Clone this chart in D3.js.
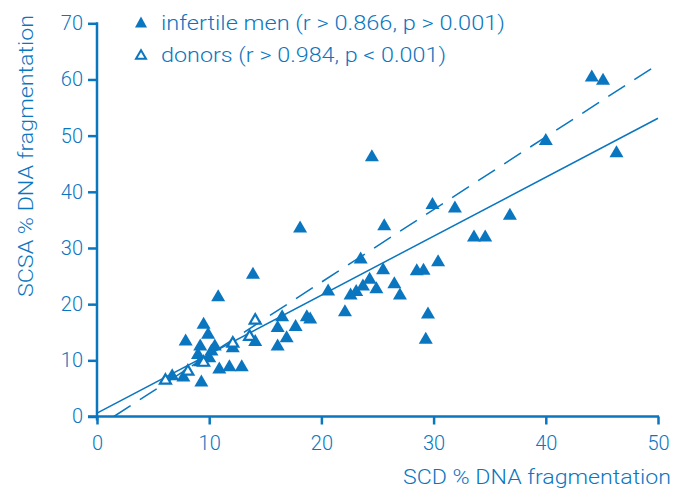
<!DOCTYPE html>
<html><head><meta charset="utf-8">
<script src="https://cdn.jsdelivr.net/npm/d3@7"></script>
<style>
html,body{margin:0;padding:0;background:#fff;}
svg{display:block;font-family:"Roboto","Liberation Sans",Arial,sans-serif;font-weight:300;}
</style></head>
<body>
<svg id="chart" width="687" height="489"></svg>
<script>
// ---- data ----
const infertileMen = [
 [6.7,7.4],[7.7,7.2],[7.9,13.6],[9.0,11.2],[9.2,12.7],[9.2,9.9],[9.3,6.3],[9.5,16.6],[9.9,14.8],
 [10.0,10.6],[10.2,11.8],[10.5,12.7],[10.8,21.5],[10.9,8.6],[11.8,9.0],[12.1,12.4],[12.9,9.0],
 [13.9,25.5],[14.1,13.5],[16.1,16.0],[16.1,12.7],[16.5,17.9],[16.9,14.2],[17.7,16.2],[18.1,33.7],
 [18.7,17.9],[19.0,17.5],[20.6,22.5],[22.1,18.8],[22.6,21.8],[23.1,22.4],[23.5,28.2],[23.7,23.4],
 [24.3,24.6],[24.5,46.4],[24.9,22.9],[25.5,26.3],[25.6,34.1],[26.5,23.8],[27.0,21.8],[28.5,26.1],
 [29.1,26.2],[29.3,13.9],[29.5,18.4],[29.9,37.9],[30.4,27.7],[31.9,37.3],[33.6,32.1],[34.6,32.1],
 [36.8,36.0],[40.0,49.3],[44.1,60.6],[45.1,60.0],[46.3,47.1]
];
const donors = [[6.1,6.6],[8.1,8.2],[9.5,9.8],[12.1,13.2],[13.6,14.4],[14.1,17.3]];
const fitInfertile = [[0,0.6],[50,53.1]];
const fitDonors = [[1.5,0],[50,62.7]];
const xTicks = [0,10,20,30,40,50];
const yTicks = [0,10,20,30,40,50,60,70];
const legendLabels = ["infertile men (r > 0.866, p > 0.001)","donors (r > 0.984, p < 0.001)"];
const xTitle = "SCD % DNA fragmentation";
const yTitle = "SCSA % DNA fragmentation";

// ---- chart ----
const blue = "#0b76c0";
const font = "Roboto, Liberation Sans, Arial, sans-serif";
const svg = d3.select("#chart");
const x = d3.scaleLinear().domain([0,50]).range([97,658]);
const y = d3.scaleLinear().domain([0,70]).range([416.5,23.3]);

// axes
const gx = svg.append("g").attr("transform","translate(0,416.5)")
  .call(d3.axisBottom(x).tickValues(xTicks).tickSize(8).tickSizeOuter(0).tickPadding(6));
const gy = svg.append("g").attr("transform","translate(97,0)")
  .call(d3.axisLeft(y).tickValues(yTicks).tickSize(9).tickSizeOuter(0).tickPadding(5));
[gx,gy].forEach(g=>{
  g.select(".domain").attr("stroke",blue).attr("stroke-width",2.5);
  g.selectAll(".tick line").attr("stroke",blue).attr("stroke-width",2.5);
  g.selectAll(".tick text").attr("fill",blue).attr("font-size",20).attr("font-family",font).attr("font-weight",300);
});
gx.select(".domain").attr("d",`M88,0H${x(50)+1}`);
gy.select(".domain").attr("d",`M0,${y(70)-1}V${y(0)+4}`);
gx.selectAll(".tick text").attr("dy","0.95em");

// regression lines
const line = d3.line().x(d=>x(d[0])).y(d=>y(d[1]));
svg.append("path").datum(fitInfertile).attr("d",line)
  .attr("fill","none").attr("stroke",blue).attr("stroke-width",1.5);
svg.append("path").datum(fitDonors).attr("d",line)
  .attr("fill","none").attr("stroke",blue).attr("stroke-width",1.5)
  .attr("stroke-dasharray","20,11");

// triangle path
function tri(cx,cy,w,h){
  return `M${cx},${cy-h*0.55}L${cx+w/2},${cy+h*0.45}L${cx-w/2},${cy+h*0.45}Z`;
}
svg.append("g").selectAll("path").data(infertileMen).join("path")
  .attr("d",d=>tri(x(d[0]),y(d[1]),14,12))
  .attr("fill",blue);
svg.append("g").selectAll("path").data(donors).join("path")
  .attr("d",d=>tri(x(d[0]),y(d[1]),11,9.5))
  .attr("fill","#fff").attr("stroke",blue).attr("stroke-width",2.2).attr("stroke-linejoin","miter");

// legend
const leg = svg.append("g");
leg.append("path").attr("d",tri(141,22.5,12,11)).attr("fill",blue);
leg.append("path").attr("d",tri(141,55,10,8.5)).attr("fill","#fff").attr("stroke",blue).attr("stroke-width",2);
leg.append("text").attr("x",161).attr("y",29.5).attr("fill",blue).attr("font-size",20)
  .attr("textLength",344).attr("lengthAdjust","spacingAndGlyphs").text(legendLabels[0]);
leg.append("text").attr("x",161).attr("y",61.5).attr("fill",blue).attr("font-size",20)
  .attr("textLength",285).attr("lengthAdjust","spacingAndGlyphs").text(legendLabels[1]);

// axis titles
svg.append("text").attr("x",671).attr("y",484).attr("text-anchor","end")
  .attr("fill",blue).attr("font-size",20).attr("textLength",268).attr("lengthAdjust","spacingAndGlyphs").text(xTitle);
svg.append("text").attr("transform","translate(33,297) rotate(-90)").attr("text-anchor","start")
  .attr("fill",blue).attr("font-size",20).attr("textLength",282).attr("lengthAdjust","spacingAndGlyphs").text(yTitle);
</script>
</body></html>
